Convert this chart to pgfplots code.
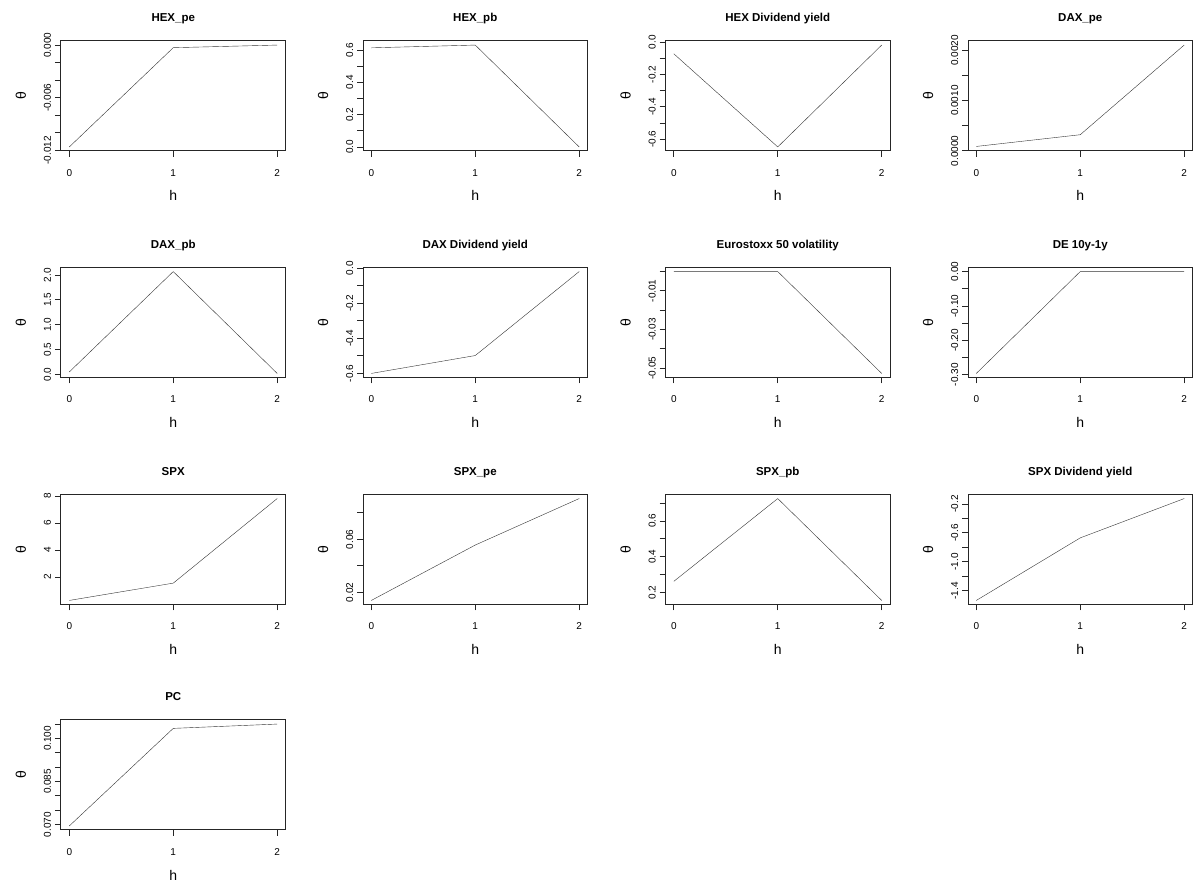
\documentclass[border=0pt]{standalone}
\usepackage{pgfplots}
\pgfplotsset{compat=1.18}
\usepackage{fontspec}
\setmainfont{Liberation Sans}
\begin{document}
\begin{tikzpicture}
\useasboundingbox (0pt,0pt) rectangle (1195pt,884pt);
\pgfplotsset{panel/.style={
  scale only axis, width=224.5pt, height=110pt, anchor=south west,
  xmin=-0.08, xmax=2.08, xtick={0,1,2}, xticklabels={0,1,2},
  scaled y ticks=false, scaled x ticks=false,
  tick align=outside, major tick length=6pt, minor tick num=0,
  xtick pos=left, ytick pos=left,
  axis line style={black!85, line width=1pt},
  every tick/.style={black!85, line width=0.8pt},
  ticklabel style={font=\fontsize{10}{12}\selectfont},
  xticklabel style={anchor=base, inner sep=0pt, yshift=-19.5pt},
  yticklabel style={xshift=-4pt, rotate=90, anchor=base, inner sep=0pt},
  xlabel={h}, ylabel={θ},
  xlabel style={at={(axis description cs:0.5,0)}, anchor=base, inner sep=0pt, yshift=-50pt, font=\fontsize{14}{16}\selectfont},
  ylabel style={at={([xshift=-35pt]axis description cs:0,0.5)}, rotate=0, anchor=base, inner sep=0pt, font=\fontsize{14}{16}\selectfont},
  title style={at={(axis description cs:0.5,1)}, anchor=base, inner sep=0pt, yshift=13pt, font=\bfseries\fontsize{11.5}{13}\selectfont},
  cycle list={{black!80, line width=0.9pt, mark=none}},
}}
% Row 1
\begin{axis}[panel, at={(61pt,733pt)}, title={HEX\_pe}, ymin=-0.012064, ymax=0.000464,
  ytick={-0.012,-0.010,-0.008,-0.006,-0.004,-0.002,0}, yticklabels={-0.012,{},{},-0.006,{},{},0.000}]
\addplot coordinates {(0,-0.0116) (1,-0.0003) (2,0.0000)};
\end{axis}
\begin{axis}[panel, at={(363pt,733pt)}, title={HEX\_pb}, ymin=-0.02524, ymax=0.65624,
  ytick={0,0.1,0.2,0.3,0.4,0.5,0.6}, yticklabels={0.0,{},0.2,{},0.4,{},0.6}]
\addplot coordinates {(0,0.614) (1,0.631) (2,0.0)};
\end{axis}
\begin{axis}[panel, at={(665.5pt,733pt)}, title={HEX Dividend yield}, ymin=-0.6732, ymax=0.0072,
  ytick={-0.6,-0.5,-0.4,-0.3,-0.2,-0.1,0}, yticklabels={-0.6,{},-0.4,{},-0.2,{},0.0}]
\addplot coordinates {(0,-0.072) (1,-0.648) (2,-0.018)};
\end{axis}
\begin{axis}[panel, at={(968pt,733pt)}, title={DAX\_pe}, ymin=-0.000005, ymax=0.002191,
  ytick={0,0.0005,0.001,0.0015,0.002}, yticklabels={0.0000,{},0.0010,{},0.0020}]
\addplot coordinates {(0,0.000086) (1,0.00032) (2,0.00211)};
\end{axis}
% Row 2
\begin{axis}[panel, at={(61pt,506.5pt)}, title={DAX\_pb}, ymin=-0.062, ymax=2.152,
  ytick={0,0.5,1,1.5,2}, yticklabels={0.0,0.5,1.0,1.5,2.0}]
\addplot coordinates {(0,0.05) (1,2.07) (2,0.02)};
\end{axis}
\begin{axis}[panel, at={(363pt,506.5pt)}, title={DAX Dividend yield}, ymin=-0.62324, ymax=0.00424,
  ytick={-0.6,-0.5,-0.4,-0.3,-0.2,-0.1,0}, yticklabels={-0.6,{},-0.4,{},-0.2,{},0.0}]
\addplot coordinates {(0,-0.600) (1,-0.498) (2,-0.019)};
\end{axis}
\begin{axis}[panel, at={(665.5pt,506.5pt)}, title={Eurostoxx 50 volatility}, ymin=-0.054808, ymax=0.002108,
  ytick={-0.05,-0.04,-0.03,-0.02,-0.01,0}, yticklabels={-0.05,{},-0.03,{},-0.01,{}}]
\addplot coordinates {(0,0.0) (1,0.0) (2,-0.0527)};
\end{axis}
\begin{axis}[panel, at={(968pt,506.5pt)}, title={DE 10y-1y}, ymin=-0.30784, ymax=0.01184,
  ytick={-0.30,-0.25,-0.20,-0.15,-0.10,-0.05,0}, yticklabels={-0.30,{},-0.20,{},-0.10,{},0.00}]
\addplot coordinates {(0,-0.296) (1,0.0) (2,0.0)};
\end{axis}
% Row 3
\begin{axis}[panel, at={(61pt,279.5pt)}, title={SPX}, ymin=-0.0216, ymax=8.1216,
  ytick={2,4,6,8}, yticklabels={2,4,6,8}]
\addplot coordinates {(0,0.28) (1,1.56) (2,7.82)};
\end{axis}
\begin{axis}[panel, at={(363pt,279.5pt)}, title={SPX\_pe}, ymin=0.010932, ymax=0.093768,
  ytick={0.02,0.04,0.06,0.08}, yticklabels={0.02,{},0.06,{}}]
\addplot coordinates {(0,0.014) (1,0.0557) (2,0.0907)};
\end{axis}
\begin{axis}[panel, at={(665.5pt,279.5pt)}, title={SPX\_pb}, ymin=0.13216, ymax=0.74884,
  ytick={0.2,0.3,0.4,0.5,0.6,0.7}, yticklabels={0.2,{},0.4,{},0.6,{}}]
\addplot coordinates {(0,0.262) (1,0.726) (2,0.155)};
\end{axis}
\begin{axis}[panel, at={(968pt,279.5pt)}, title={SPX Dividend yield}, ymin=-1.58928, ymax=-0.06972,
  ytick={-1.4,-1.2,-1.0,-0.8,-0.6,-0.4,-0.2}, yticklabels={-1.4,{},-1.0,{},-0.6,{},-0.2}]
\addplot coordinates {(0,-1.533) (1,-0.669) (2,-0.126)};
\end{axis}
% Row 4
\begin{axis}[panel, at={(61pt,54pt)}, title={PC}, ymin=0.06808, ymax=0.10642,
  ytick={0.070,0.075,0.080,0.085,0.090,0.095,0.100,0.105}, yticklabels={0.070,{},{},0.085,{},{},0.100,{}}]
\addplot coordinates {(0,0.0695) (1,0.1035) (2,0.1050)};
\end{axis}
\end{tikzpicture}
\end{document}
